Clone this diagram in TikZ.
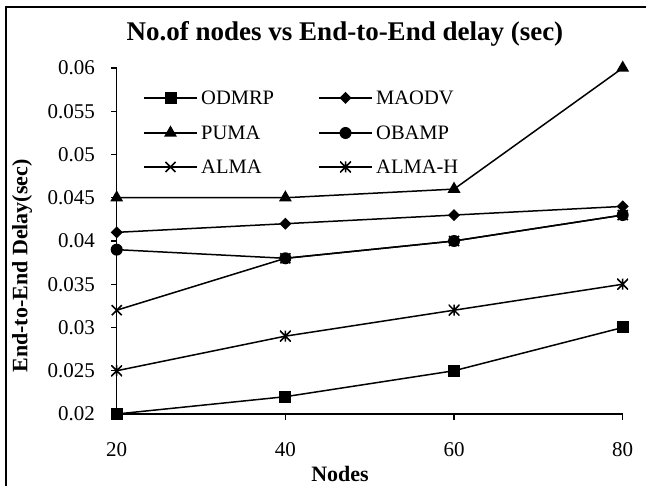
\documentclass[tikz,border=0pt]{standalone}
\usepackage{fontspec}
\setmainfont{Liberation Serif}
\usetikzlibrary{shapes.geometric,shapes.misc}
\begin{document}
\begin{tikzpicture}[x=1pt,y=-1pt,
  series/.style={line width=1.5pt, black, line join=round},
  axisline/.style={line width=1.2pt, black},
  mk/.style={inner sep=0pt, outer sep=0pt},
  msquare/.style={mk, rectangle, fill=black, minimum size=12pt},
  mdiamond/.style={mk, diamond, fill=black, minimum width=12pt, minimum height=12pt},
  mtriangle/.style={mk, regular polygon, regular polygon sides=3, fill=black, minimum size=15pt},
  mcircle/.style={mk, circle, fill=black, minimum size=12pt},
  mcross/.style={mk, cross out, draw=black, line width=1.6pt, minimum size=10pt},
  mstar/.style={mk, minimum size=11pt, path picture={
      \draw[line width=1.5pt]
        (path picture bounding box.north west) -- (path picture bounding box.south east)
        (path picture bounding box.south west) -- (path picture bounding box.north east)
        (path picture bounding box.north) -- (path picture bounding box.south);}},
  ticklab/.style={font=\fontsize{21}{21}\selectfont, inner sep=0pt},
  legtext/.style={font=\fontsize{20.5}{20.5}\selectfont, inner sep=0pt, anchor=west},
  axtitle/.style={font=\bfseries\fontsize{22}{22}\selectfont, inner sep=0pt},
]
\useasboundingbox (0,0) rectangle (646,486);
\fill[white] (0,0) rectangle (646,486);

% chart frame (only the left and top edges fall inside the page)
\draw[line width=2pt] (5.5,486) -- (5.5,7) -- (646,7);

% title and axis titles
\node[font=\bfseries\fontsize{27}{27}\selectfont, inner sep=0pt, anchor=base] (title) at (345,41) {No.of nodes vs End-to-End delay (sec)};
\node[axtitle] (xtitle) at (340,474) {Nodes};
\node[axtitle, rotate=90] (ytitle) at (22,266) {End-to-End Delay(sec)};

% plot area: x = nodes - 20, y = delay*1000 - 20
\begin{scope}[shift={(116.7,414)}, x=8.4335pt, y=8.65pt]
  % axes and ticks
  \draw[axisline] (0,40) -- (0,0) -- (60,0);
  \foreach \k/\t in {0/0.02,5/0.025,10/0.03,15/0.035,20/0.04,25/0.045,30/0.05,35/0.055,40/0.06}{
    \draw[axisline] (0,\k) -- ++(-6pt,0);
    \node[ticklab, anchor=east] (yl\k) at ([xshift=-21.7pt]0,\k) {\t};
  }
  \foreach \n/\t in {0/20,20/40,40/60,60/80}{
    \draw[axisline] (\n,0) -- ++(0,-6.5pt);
    \node[ticklab] (xl\t) at ([yshift=-36pt]\n,0) {\t};
  }

  % data points
  \foreach \s/\a/\b/\c/\d in {od/0/2/5/10, ma/21/22/23/24, pu/25/25/26/40,
                               ob/19/18/20/23, al/12/18/20/23, ah/5/9/12/15}{
    \coordinate (\s1) at (0,\a);
    \coordinate (\s2) at (20,\b);
    \coordinate (\s3) at (40,\c);
    \coordinate (\s4) at (60,\d);
    \draw[series] (\s1) -- (\s2) -- (\s3) -- (\s4);
  }
  % markers
  \foreach \s/\st in {od/msquare, ma/mdiamond, pu/mtriangle, ob/mcircle, al/mcross, ah/mstar}{
    \foreach \i in {1,2,3,4}{
      \node[\st] (m\s\i) at (\s\i) {};
    }
  }
\end{scope}

% legend
\foreach \s/\st/\t/\x/\y in {od/msquare/ODMRP/144/98, ma/mdiamond/MAODV/319/98,
                             pu/mtriangle/PUMA/144/133, ob/mcircle/OBAMP/319/133,
                             al/mcross/ALMA/144/167, ah/mstar/ALMA-H/319/167}{
  \coordinate (lg\s a) at (\x,\y);
  \coordinate (lg\s b) at ({\x+53},\y);
  \draw[series] (lg\s a) -- (lg\s b);
  \node[\st] (lgm\s) at ({\x+26.5},\y) {};
  \node[legtext] (lgt\s) at ({\x+57},\y) {\t};
}
\end{tikzpicture}
\end{document}
